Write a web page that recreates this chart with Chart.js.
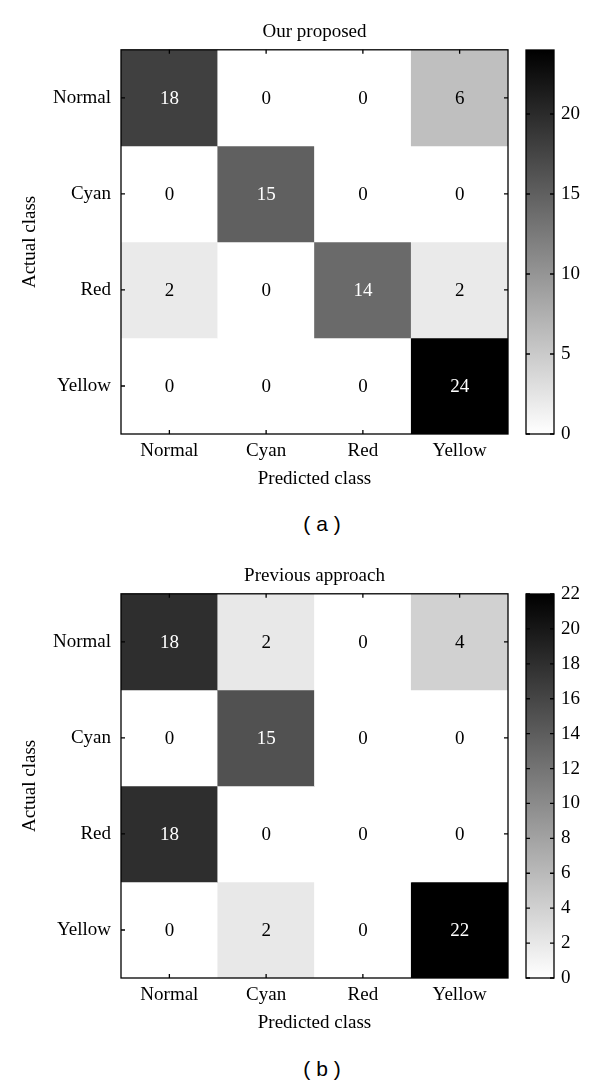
<!DOCTYPE html>
<html>
<head>
<meta charset="utf-8">
<script src="https://cdn.jsdelivr.net/npm/chart.js@4/dist/chart.umd.min.js"></script>
<style>
  body { margin: 0; background: #fff; }
  .wrap { position: relative; width: 600px; height: 1087px; }
  canvas { position: absolute; }
  .cap { position: absolute; left: 0; width: 644px; text-align: center; font: 21px "Liberation Sans", Arial, sans-serif; line-height: 24px; color: #000; }
</style>
</head>
<body>
<div class="wrap">
  <canvas id="matA" style="left:0;top:0" width="515" height="500"></canvas>
  <canvas id="barA" style="left:515px;top:0" width="85" height="500"></canvas>
  <div class="cap" style="top:512px">( a )</div>
  <canvas id="matB" style="left:0;top:544px" width="515" height="500"></canvas>
  <canvas id="barB" style="left:515px;top:544px" width="85" height="500"></canvas>
  <div class="cap" style="top:1057px">( b )</div>
</div>
<script>
const classes = ['Normal', 'Cyan', 'Red', 'Yellow'];

// rows = actual class, columns = predicted class
const proposed = [
  [18, 0, 0, 6],
  [0, 15, 0, 0],
  [2, 0, 14, 2],
  [0, 0, 0, 24]
];
const previous = [
  [18, 2, 0, 4],
  [0, 15, 0, 0],
  [18, 0, 0, 0],
  [0, 2, 0, 22]
];

const proposedMax = 24;
const proposedStep = 5;
const previousMax = 22;
const previousStep = 2;

const serif = '"Liberation Serif", "Times New Roman", serif';
const fs = 19;

function gray(v, max) {
  const g = Math.round(255 * (1 - v / max));
  return `rgb(${g}, ${g}, ${g})`;
}

// box around the plot area with short inward ticks (matlab style)
const framePlugin = {
  id: 'frame',
  afterDraw(chart) {
    const { ctx, chartArea: a } = chart;
    ctx.save();
    ctx.strokeStyle = '#000';
    ctx.lineWidth = 1.3;
    ctx.strokeRect(a.left, a.top, a.right - a.left, a.bottom - a.top);
    ctx.beginPath();
    Object.values(chart.scales).forEach(scale => {
      if (!scale.options.display) return;
      scale.ticks.forEach((t, i) => {
        const p = scale.getPixelForTick(i);
        if (scale.isHorizontal()) {
          ctx.moveTo(p, a.bottom); ctx.lineTo(p, a.bottom - 4);
          ctx.moveTo(p, a.top); ctx.lineTo(p, a.top + 4);
        } else {
          ctx.moveTo(a.left, p); ctx.lineTo(a.left + 4, p);
          ctx.moveTo(a.right, p); ctx.lineTo(a.right - 4, p);
        }
      });
    });
    ctx.stroke();
    ctx.restore();
  }
};

const cellLabels = {
  id: 'cellLabels',
  afterDatasetsDraw(chart) {
    const { ctx, scales } = chart;
    const matrix = chart.options.plugins.cellLabels.matrix;
    const max = chart.options.plugins.cellLabels.max;
    ctx.save();
    ctx.font = fs + 'px ' + serif;
    ctx.textAlign = 'center';
    ctx.textBaseline = 'middle';
    matrix.forEach((row, i) => {
      row.forEach((v, j) => {
        ctx.fillStyle = v > max / 2 ? '#fff' : '#000';
        ctx.fillText(String(v), scales.x.getPixelForValue(j), scales.y.getPixelForValue(i + 0.5) + 1);
      });
    });
    ctx.restore();
  }
};

function drawMatrix(id, title, matrix, max) {
  const datasets = matrix.map((row, i) => ({
    label: classes[i],
    data: row.map(() => [i, i + 1]),
    backgroundColor: row.map(v => gray(v, max)),
    borderWidth: 0,
    barPercentage: 1,
    categoryPercentage: 1,
    grouped: false
  }));

  new Chart(document.getElementById(id), {
    type: 'bar',
    data: { labels: classes, datasets: datasets },
    plugins: [cellLabels, framePlugin],
    options: {
      responsive: false,
      animation: false,
      layout: { padding: { right: 7 } },
      plugins: {
        legend: { display: false },
        tooltip: { enabled: false },
        title: {
          display: true,
          text: title,
          fullSize: false,
          color: '#000',
          font: { family: serif, size: fs, weight: 'normal' },
          padding: { top: 21, bottom: 6 }
        },
        cellLabels: { matrix: matrix, max: max }
      },
      scales: {
        x: {
          grid: { display: false, drawTicks: false },
          border: { display: false },
          ticks: { color: '#000', padding: 6, font: { family: serif, size: fs } },
          title: {
            display: true,
            text: 'Predicted class',
            color: '#000',
            font: { family: serif, size: fs },
            padding: { top: 0, bottom: 10 }
          },
          afterFit(scale) { scale.height = 66; }
        },
        y: {
          type: 'linear',
          min: 0,
          max: 4,
          reverse: true,
          grid: { display: false, drawTicks: false },
          border: { display: false },
          afterBuildTicks(scale) {
            scale.ticks = classes.map((c, i) => ({ value: i + 0.5 }));
          },
          ticks: {
            color: '#000',
            padding: 10,
            font: { family: serif, size: fs },
            callback: v => classes[Math.floor(v)]
          },
          title: {
            display: true,
            text: 'Actual class',
            color: '#000',
            font: { family: serif, size: fs },
            padding: { top: 19, bottom: 0 }
          },
          afterFit(scale) { scale.width = 121; }
        }
      }
    }
  });
}

function drawColorbar(id, max, step) {
  new Chart(document.getElementById(id), {
    type: 'bar',
    data: {
      labels: [''],
      datasets: [{
        data: [[0, max]],
        borderWidth: 0,
        barPercentage: 1,
        categoryPercentage: 1,
        backgroundColor(context) {
          const chart = context.chart;
          if (!chart.chartArea) return '#888';
          const y = chart.scales.y;
          const g = chart.ctx.createLinearGradient(0, y.getPixelForValue(0), 0, y.getPixelForValue(max));
          g.addColorStop(0, '#fff');
          g.addColorStop(1, '#000');
          return g;
        }
      }]
    },
    plugins: [framePlugin],
    options: {
      responsive: false,
      animation: false,
      layout: { padding: { left: 11, top: 50, bottom: 66 } },
      plugins: { legend: { display: false }, tooltip: { enabled: false } },
      scales: {
        x: { display: false },
        y: {
          position: 'right',
          min: 0,
          max: max,
          grid: { display: false, drawTicks: false },
          border: { display: false },
          ticks: {
            stepSize: step,
            includeBounds: false,
            color: '#000',
            padding: 7,
            font: { family: serif, size: fs }
          },
          afterFit(scale) { scale.width = 46; }
        }
      }
    }
  });
}

drawMatrix('matA', 'Our proposed', proposed, proposedMax);
drawColorbar('barA', proposedMax, proposedStep);
drawMatrix('matB', 'Previous approach', previous, previousMax);
drawColorbar('barB', previousMax, previousStep);
</script>
</body>
</html>
